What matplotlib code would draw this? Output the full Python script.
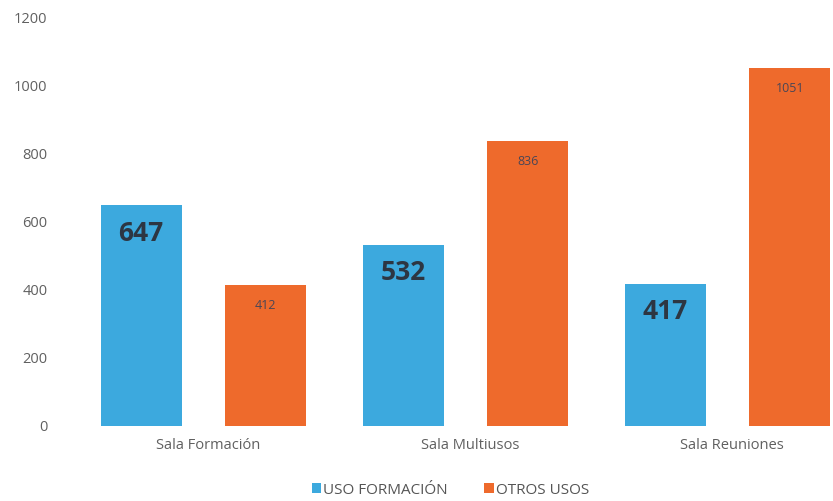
import matplotlib
matplotlib.use("Agg")
import matplotlib.pyplot as plt
import numpy as np

plt.rcParams['font.family'] = ['Open Sans', 'DejaVu Sans']

salas = ["Sala Formación", "Sala Multiusos", "Sala Reuniones"]
usoFormacion = [647, 532, 417]
otrosUsos = [412, 836, 1051]
yTicks = [0, 200, 400, 600, 800, 1000, 1200]

blue = "#3ca9de"
orange = "#ee6a2c"

fig = plt.figure(figsize=(8.33, 5.01), dpi=100)
ax = fig.add_axes([0.072, 0.150, 0.928, 0.816])

x = np.arange(len(salas))
w = 0.31
barsA = ax.bar(x - 0.255, usoFormacion, w, color=blue, label="USO FORMACIÓN")
barsB = ax.bar(x + 0.22, otrosUsos, w, color=orange, label="OTROS USOS")

for b, v in zip(barsA, usoFormacion):
    ax.text(b.get_x() + b.get_width() / 2, v - 82, str(v), ha="center", va="center",
            fontsize=19, fontweight="bold", color="#2d3642")
for b, v in zip(barsB, otrosUsos):
    ax.text(b.get_x() + b.get_width() / 2, v - 60, str(v), ha="center", va="center",
            fontsize=9, color="#4a4656")

ax.set_xlim(-0.565, 2.385)
ax.set_ylim(0, 1200)
ax.set_yticks(yTicks)
ax.set_xticks(x)
ax.set_xticklabels(salas)
ax.tick_params(axis="both", length=0, colors="#606060", labelsize=10.5)
ax.tick_params(axis="y", pad=9)
ax.tick_params(axis="x", pad=9)

for s in ["top", "right", "left", "bottom"]:
    ax.spines[s].set_visible(False)

leg = ax.legend(loc="upper center", bbox_to_anchor=(0.505, -0.105), ncol=2, frameon=False,
                handlelength=0.6, handleheight=0.6, handletextpad=0.15, columnspacing=2.4,
                fontsize=11)
for t in leg.get_texts():
    t.set_color("#555555")

fig.savefig("out.png", dpi=100)
